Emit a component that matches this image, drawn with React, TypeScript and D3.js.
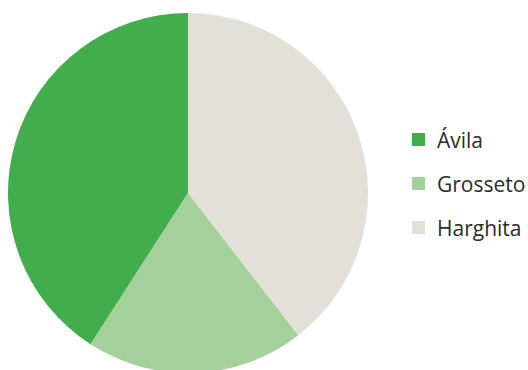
import React, { useEffect, useRef } from "react";
import * as d3 from "d3";

const categories = ["Ávila", "Grosseto", "Harghita"];
const values = [40.9, 19.6, 39.5];
const colors = ["#41ad4d", "#a3d09b", "#e3e1d7"];

export default function App() {
  const ref = useRef<SVGSVGElement>(null);
  useEffect(() => {
    const svg = d3.select(ref.current);
    svg.selectAll("*").remove();
    const cx = 188, cy = 193, r = 180;
    const pie = d3.pie<number>().sort(null).startAngle(0).endAngle(-2 * Math.PI);
    const arcs = pie(values);
    const arc = d3.arc<d3.PieArcDatum<number>>().innerRadius(0).outerRadius(r);
    const g = svg.append("g").attr("transform", `translate(${cx},${cy})`);
    g.selectAll("path").data(arcs).enter().append("path")
      .attr("d", arc as any)
      .attr("fill", (_, i) => colors[i]);
    const lg = svg.append("g");
    const items = lg.selectAll("g").data(categories).enter().append("g")
      .attr("transform", (_, i) => `translate(412,${133 + i * 44})`);
    items.append("rect").attr("width", 13).attr("height", 13).attr("fill", (_, i) => colors[i]);
    items.append("text").attr("x", 25).attr("y", 14.5)
      .attr("font-family", "'Open Sans', sans-serif").attr("font-size", 21)
      .attr("fill", "#2b2b2b").text(d => d);
  }, []);
  return (
    <svg ref={ref} width={528} height={370} style={{ position: "absolute", left: 0, top: 0 }} />
  );
}
